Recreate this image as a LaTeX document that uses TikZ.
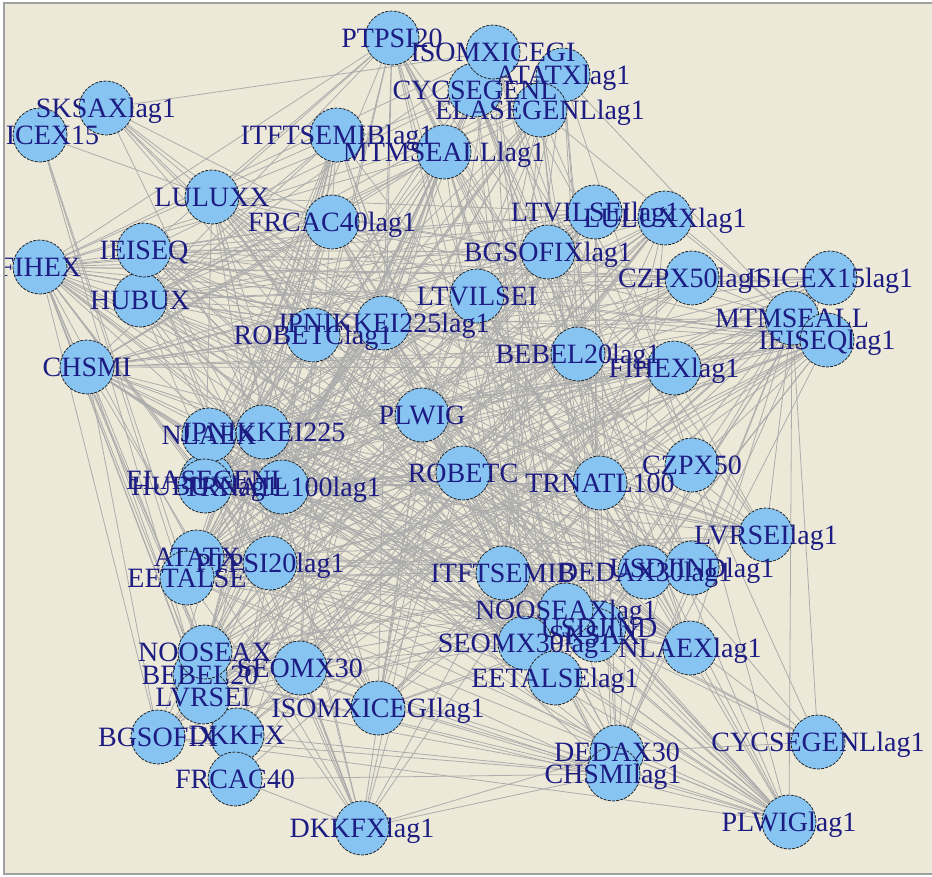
\documentclass[tikz,border=0pt]{standalone}
\usepackage{fontspec}
\setmainfont{Liberation Serif}
\pgfdeclarelayer{bg}
\pgfdeclarelayer{edges}
\pgfsetlayers{bg,edges,main}
\definecolor{beige}{RGB}{236,233,216}
\definecolor{vfill}{RGB}{135,196,242}
\definecolor{lblue}{RGB}{28,28,130}
\definecolor{edgegray}{RGB}{172,172,172}
\definecolor{framegray}{RGB}{160,160,160}
\tikzset{
 vtx/.style={circle, fill=vfill, draw=black!85, line width=0.8pt, dash pattern=on 3pt off 1.2pt, minimum size=54pt, inner sep=0pt},
 lbl/.style={text=lblue, font=\fontsize{28}{28}\selectfont, inner sep=0pt, text height=19pt, text depth=0pt, anchor=center},
 edge/.style={draw=edgegray, line width=0.8pt}
}
\def\nodelist{ATX/197/557/ATATX, BEL/200/675/BEBEL20, BGS/158/737/BGSOFIX, CHS/87/367/CHSMI,
 CYC/475/90/CYCSEGENL, CZP/692/465/CZPX50, DAX/617/752/DEDAX30, DKK/237/735/DKKFX,
 EET/187/578/EETALSE, ELA/207/480/ELASEGENL, FIH/40/267/FIHEX, FRC/235/779/FRCAC40,
 HUB/140/300/HUBUX, IEI/144/250/IEISEQ, ICX/40/135/ISICEX15, IOM/493/52/ISOMXICEGI,
 ITF/503/573/ITFTSEMIB, JPN/263/432/JPNIKKEI225, LTV/477/296/LTVILSEI, LUL/212/197/LULUXX,
 LVR/203/697/LVRSEI, MTM/792/318/MTMSEALL, NLA/209/435/NLAEX, NOO/205/652/NOOSEAX,
 PLW/422/415/PLWIG, PTP/392/38/PTPSI20, ROB/463/473/ROBETC, SEO/300/668/SEOMX30,
 USD/599/628/USDJIND, SKS/595/635/SKSAX, TRN/600/483/TRNATL100,
 ATXL/563/75/ATATXlag1, BELL/578/354/BEBEL20lag1, BGSL/548/252/BGSOFIXlag1, CHSL/613/774/CHSMIlag1,
 CYCL/818/742/CYCSEGENLlag1, CZPL/692/278/CZPX50lag1, DAXL/645/572/DEDAX30lag1, DKKL/362/828/DKKFXlag1,
 ELAL/540/110/ELASEGENLlag1, FIHL/674/368/FIHEXlag1, FRCL/332/222/FRCAC40lag1,
 HUBL/205/486/HUBUXlag1, IEIL/827/340/IEISEQlag1, ICXL/830/278/ISICEX15lag1, IOML/378/708/ISOMXICEGIlag1,
 ITFL/337/135/ITFTSEMIBlag1, JPNL/383/323/JPNIKKEI225lag1, LTVL/595/212/LTVILSEIlag1, LULL/665/218/LULUXXlag1,
 LVRL/766/535/LVRSEIlag1, MTML/444/152/MTMSEALLlag1, NLAL/690/648/NLAEXlag1, NOOL/566/610/NOOSEAXlag1,
 PLWL/789/822/PLWIGlag1, PTPL/270/563/PTPSI20lag1, ROBL/313/335/ROBETClag1, SEOL/525/643/SEOMX30lag1,
 EETL/555/678/EETALSElag1,
 SKSL/106/108/SKSAXlag1, TRNL/282/487/TRNATL100lag1, USDL/692/568/USDJINDlag1}
\begin{document}
\begin{tikzpicture}[x=1pt,y=-1pt]
\useasboundingbox (0,0) rectangle (932,876);
\begin{pgfonlayer}{bg}
\fill[white] (0,0) rectangle (932,876);
\fill[beige] (4,3) rectangle (932,874);
\draw[framegray, line width=2pt] (932,3) -- (4,3) -- (4,874) -- (932,874);
\end{pgfonlayer}
% vertices
\foreach \n/\x/\y/\t in \nodelist {\node[vtx] (\n) at (\x,\y) {};}
% edges
\begin{pgfonlayer}{edges}
\foreach \a/\bs in {
 ATXL/{MTM,CZP,TRN,ROB,PLW,ITF,CHS,HUB,SKS,EET,NOO,DAX},
 BELL/{FIH,IEI,HUB,CHS,ATX,EET,ELA,NLA,JPN,SEO,BGS,DKK,MTM,CYC,PTP},
 BGSL/{FIH,IEI,LUL,HUB,CHS,ELA,NLA,ATX,NOO,LVR,ITF,TRN,SKS,MTM},
 CHSL/{SEO,DKK,ITF,ROB,NOO,BEL,EET,PLW,TRN,JPN,LVR,FRC,CZP,MTM,BGS},
 CYCL/{SKS,USD,ITF,TRN,CZP,ROB,DAX,MTM},
 CZPL/{FIH,IEI,LUL,HUB,CHS,NLA,ELA,ATX,EET,NOO,LVR,BGS,ITF,SEO,PLW,MTM},
 DAXL/{FIH,LUL,HUB,CHS,JPN,ELA,ATX,EET,NOO,PLW,ROB,LTV,IOM,PTP,CYC,MTM},
 DKKL/{LUL,HUB,JPN,ELA,NLA,PLW,ROB,LTV,ITF,SEO,TRN,DAX,CHS,EET,FRC,IEI,CHSL},
 EETL/{FIH,IEI,CHS,HUB,LUL,JPN,ELA,ATX,PLW,LTV,CYC,PTP,IOM,MTM,CZP},
 ELAL/{MTM,FIH,HUB,ITF,ROB,TRN,CZP,SKS,USD,NLA,JPN,EET,ATX,PLW,BEL},
 FIHL/{FIH,IEI,HUB,CHS,ELA,NLA,JPN,ATX,EET,NOO,LVR,SEO,DKK,BGS,PLW,ROB},
 FRCL/{FIH,IEI,HUB,CHS,NLA,ELA,ATX,EET,NOO,TRN,ITF,SKS,USD,CZP,PLW,DAX},
 HUBL/{LTV,PTP,IOM,CYC,MTM,CZP,TRN,ROB,ITF,SKS,DAX,PLW,FIH,LUL},
 IEIL/{FIH,IEI,HUB,CHS,LUL,NLA,JPN,ELA,ATX,EET,NOO,BEL,LVR,PLW,ROB,TRN,ITF,SKS,USD,DAX,CZP,LTV},
 ICXL/{FIH,HUB,CHS,NLA,ELA,ATX,EET,NOO,BGS,DKK,FRC,SEO,ITF,TRN,SKS,USD,DAX,LTV},
 IOML/{LUL,IEI,FIH,HUB,ELA,JPN,PLW,ROB,LTV,TRN,CZP,MTM,IOM,PTP,ITF,SKS,USD},
 ITFL/{FIH,CHS,HUB,NLA,ELA,ATX,EET,NOO,BEL,LVR,BGS,DKK,FRC,SEO,ITF,TRN,PLW,ROB},
 JPNL/{FIH,CHS,LUL,IEI,ELA,ATX,EET,NOO,SEO,DKK,ITF,SKS,USD,DAX,CZP,MTM,IOM,PTP},
 LTVL/{FIH,HUB,CHS,IEI,LUL,NLA,JPN,ELA,ATX,EET,NOO,LVR,BGS,SEO,ITF,SKS,USD,DAX,PLW},
 LULL/{FIH,HUB,CHS,NLA,ELA,ATX,EET,NOO,LVR,BGS,DKK,FRC,SEO,ROB,TRN,ITF,MTM,DAX},
 LVRL/{FIH,IEI,HUB,CHS,LUL,JPN,NLA,ELA,ATX,EET,ROB,PLW,LTV,CYC,IOM,PTP,MTM},
 MTML/{FIH,CHS,HUB,NLA,ELA,ATX,EET,NOO,BEL,LVR,BGS,DKK,FRC,SEO,ITF,TRN,SKS,USD,DAX,CZP},
 NLAL/{FIH,IEI,HUB,CHS,LUL,JPN,ELA,NLA,ATX,EET,ROB,PLW,LTV,PTP,IOM,CYC,MTM},
 NOOL/{FIH,IEI,LUL,HUB,CHS,JPN,NLA,ELA,ATX,EET,NOO,BEL,LVR,PLW,LTV,PTP,IOM},
 PLWL/{ATX,BEL,BGS,CHS,CYC,CZP,DAX,EET,ELA,ITF,JPN,LTV,MTM,NLA,NOO,PLW,ROB,SEO,SKS,TRN,USD,IEI,FIH,LUL,PTP},
 PTPL/{LUL,IEI,FIH,LTV,PLW,ROB,TRN,ITF,CZP,MTM,SKS,USD,DAX,IOM,PTP,CYC},
 ROBL/{FIH,CHS,HUB,IEI,LUL,NLA,ELA,EET,ATX,NOO,SEO,ITF,TRN,SKS,USD,DAX,CZP,MTM},
 SEOL/{FIH,IEI,LUL,HUB,CHS,JPN,NLA,ELA,ATX,EET,BEL,LVR,ROB,LTV,PLW,PTP,IOM,CYC,MTM},
 SKSL/{IOM,PLW,ROB,TRN,LTV,ITF,LUL,JPN},
 TRNL/{LUL,IEI,FIH,HUB,CHS,LTV,PLW,ROB,TRN,ITF,CZP,SKS,USD,DAX,MTM,IOM,PTP,CYC},
 USDL/{FIH,IEI,HUB,CHS,LUL,NLA,JPN,ELA,ATX,EET,NOO,BGS,PLW,ROB,LTV,IOM,PTP,CYC,MTM},
 ICX/{LUL,NOO,LVR,EET},
 FIH/{NOO,LVR,BGS,DKK,FRC,BEL,ATX},
 CHS/{BGS,DKK,FRC},
 PTP/{LUL,IEI,HUB,FIH},
 IOM/{HUB,FIH},
 CYC/{IEI,LUL}}{\foreach \b in \bs {\draw[edge] (\a) -- (\b);}}
\end{pgfonlayer}
% labels
\begin{scope}
\clip (5,4) rectangle (932,873);
\foreach \n/\x/\y/\t in \nodelist {\node[lbl] (\n-t) at (\x,\y) {\t};}
\end{scope}
\end{tikzpicture}
\end{document}
